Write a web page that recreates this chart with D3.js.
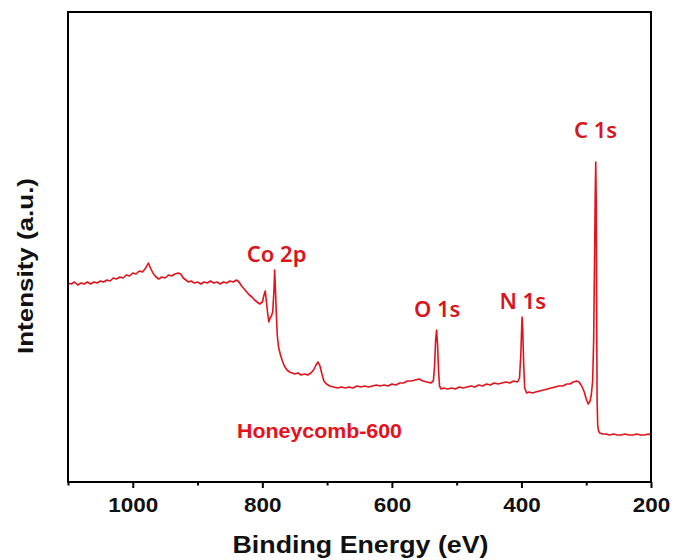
<!DOCTYPE html>
<html>
<head>
<meta charset="utf-8">
<script src="https://cdn.jsdelivr.net/npm/d3@7"></script>
<style>
  html, body { margin: 0; padding: 0; background: #fff; }
  svg { display: block; }
</style>
</head>
<body>
<svg id="chart" width="677" height="560"></svg>
<script>
// XPS survey spectrum of Honeycomb-600
const bindingEnergy = [
  1100,1095,1090,1085,1080,1075,1070,1065,1060,1055,1050,1045,1040,1035,1030,1025,1020,1015,1010,1005,
  1000,995,990,985,980,976,972,968,964,960,955,950,945,940,935,930,926,922,918,914,910,905,900,895,890,
  885,880,875,870,865,860,855,850,845,840,836,832,828,824,820,816,812,808,804,800,797,795.5,794,792,790,
  788,786,784,782,781,780,778.5,777,775,772,769,766,762,758,754,750,745,740,735,730,725,721,717,714,711,
  708,705,701,696,690,684,678,672,666,660,654,648,642,636,630,624,618,612,606,600,594,588,582,576,570,
  564,558,552,546,540,536,534,532.5,531,529.5,528,526.5,524,520,514,508,502,496,490,484,478,472,466,460,
  454,448,442,436,430,424,418,412,406,403,401,399.5,399,398,396.5,395,392,388,383,378,372,366,360,354,
  348,342,336,330,325,320,315,311,307,303,300,297,294,292,290,288.5,287,286,285.3,284.6,284,283.2,282.3,
  281,279,275,270,264,258,252,246,240,234,228,222,216,210,204,200
];
const intensity = [
  199,198,200,197,199,198,200,198,200,199,201,200,202,201,204,203,205,204,207,206,
  209,208,211,210,214,219,213,208,205,203,205,204,207,206,208,209,208,204,202,200,201,199,200,198,200,
  199,201,199,200,198,200,199,201,200,202,200,196,193,190,187,185,182,180,178,180,188,191,182,170,160,
  164,166,170,192,212,197,170,147,135,127,121,116,112,110,109,108,109,107,108,107,109,112,117,120,116,
  108,101,98,96,95,94,95,94,95,94,96,95,96,95,96,97,96,97,96,98,97,99,99,101,101,
  102,103,101,100,99,101,117,142,152,137,112,96,93,94,93,94,93,95,94,95,96,95,97,96,
  98,97,99,98,99,100,99,101,100,104,127,157,165,152,117,94,89,90,89,90,91,92,93,94,
  95,96,96,98,98,100,101,100,96,90,83,78,81,88,102,142,232,292,320,282,182,82,57,
  51,49,48,48,47,48,47,47,48,47,47,48,47,47,48,47
];

// x axis ticks
const majorTicks = [1000, 800, 600, 400, 200];
const minorTicks = [1100, 900, 700, 500, 300];

// peak labels
const peakNames = ["Co 2p", "O 1s", "N 1s", "C 1s"];
const peakEnergy = [778, 530, 398, 285.5];
const peakLabelLevel = [220, 165, 173, 344];

const sampleName = "Honeycomb-600";
const xTitle = "Binding Energy (eV)";
const yTitle = "Intensity (a.u.)";

const svg = d3.select("#chart");
const m = { left: 68, right: 651, top: 12, bottom: 482 };

const x = d3.scaleLinear().domain([1100, 200]).range([m.left, m.right]);
const y = d3.scaleLinear().domain([0, 470]).range([m.bottom, m.top]);

const red = "#e3131b";
const boldFont = "'Liberation Sans', Arial, sans-serif";

// spectrum
const pts = bindingEnergy.map((e, i) => [e, intensity[i]]);
svg.append("path")
  .datum(pts)
  .attr("fill", "none")
  .attr("stroke", red)
  .attr("stroke-width", 1.6)
  .attr("stroke-linejoin", "round")
  .attr("d", d3.line().x(d => x(d[0])).y(d => y(d[1])));

// frame
svg.append("rect")
  .attr("x", m.left).attr("y", m.top)
  .attr("width", m.right - m.left).attr("height", m.bottom - m.top)
  .attr("fill", "none").attr("stroke", "#000").attr("stroke-width", 2);

// bottom axis: major ticks with labels
const gx = svg.append("g").attr("transform", `translate(0,${m.bottom})`)
  .call(d3.axisBottom(x).tickValues(majorTicks).tickSize(6).tickPadding(9).tickFormat(d3.format("d")));
gx.select(".domain").remove();
gx.selectAll(".tick line").attr("stroke", "#000").attr("stroke-width", 2);
gx.selectAll(".tick text")
  .attr("fill", "#111")
  .style("font-family", boldFont)
  .style("font-weight", "bold")
  .style("font-size", "21px")
  .attr("textLength", d => String(d).length * 12.5)
  .attr("lengthAdjust", "spacingAndGlyphs");

// minor ticks
const gm = svg.append("g").attr("transform", `translate(0,${m.bottom})`)
  .call(d3.axisBottom(x).tickValues(minorTicks).tickSize(3.5).tickFormat(""));
gm.select(".domain").remove();
gm.selectAll(".tick line").attr("stroke", "#000").attr("stroke-width", 2);

// axis titles
svg.append("text")
  .attr("x", (m.left + m.right) / 2 + 1).attr("y", 553)
  .attr("text-anchor", "middle")
  .attr("fill", "#111")
  .style("font-family", boldFont).style("font-weight", "bold").style("font-size", "23px")
  .attr("textLength", 256).attr("lengthAdjust", "spacingAndGlyphs")
  .text(xTitle);

svg.append("text")
  .attr("transform", "translate(33,266) rotate(-90)")
  .attr("text-anchor", "middle")
  .attr("fill", "#111")
  .style("font-family", boldFont).style("font-weight", "bold").style("font-size", "22px")
  .attr("textLength", 176).attr("lengthAdjust", "spacingAndGlyphs")
  .text(yTitle);

// peak labels
svg.append("g").selectAll("text")
  .data(peakNames)
  .join("text")
  .attr("x", (d, i) => x(peakEnergy[i]))
  .attr("y", (d, i) => y(peakLabelLevel[i]))
  .attr("text-anchor", "middle")
  .attr("fill", "#d8151d")
  .style("font-family", "'Noto Sans', 'Open Sans', sans-serif")
  .style("font-weight", "600")
  .style("font-size", "22px")
  .text(d => d);

// sample name
svg.append("text")
  .attr("x", 237).attr("y", 438)
  .attr("fill", "#e8101a")
  .style("font-family", boldFont).style("font-weight", "bold").style("font-size", "21px")
  .attr("textLength", 165).attr("lengthAdjust", "spacingAndGlyphs")
  .text(sampleName);
</script>
</body>
</html>
